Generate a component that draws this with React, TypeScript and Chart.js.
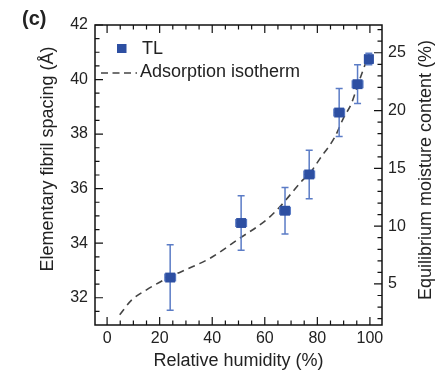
import React, { useEffect, useRef } from "react";
import { Chart, registerables } from "chart.js";

Chart.register(...registerables);

// ---- data ----
const humidity = [24, 51, 67.7, 76.9, 88.3, 95.3, 99.6];
const spacing = [32.74, 34.74, 35.19, 36.52, 38.79, 39.83, 40.75];
const spacingErr = [1.2, 1.0, 0.85, 0.89, 0.88, 0.71, 0.21];
const humidityErr = [2, 2, 2, 2, 2, 2, 1.6];

const isothermRH = [4.8, 9.5, 15, 24, 30, 39.2, 50.6, 60.7, 65.8, 74.5, 77, 81, 86.7, 89.9, 93, 95.6, 98.1, 99.5];
const isothermSpacing = [31.38, 31.93, 32.29, 32.77, 33.03, 33.45, 34.19, 34.86, 35.34, 36.32, 36.55, 37.1, 37.9, 38.58, 39.13, 39.86, 40.53, 40.9];

const xTicks = [0, 20, 40, 60, 80, 100];
const yTicks = [32, 34, 36, 38, 40, 42];
const y2Ticks = [5, 10, 15, 20, 25];

const FONT = "'Liberation Sans', Arial, Helvetica, sans-serif";
const MARKER = "#2d4fa2";
const ERR = "#5b7cc6";
const TEXT = "#222";

function range(a: number, b: number, s: number) {
  const out: number[] = [];
  for (let v = a; v <= b + 1e-9; v += s) out.push(Math.round(v * 1000) / 1000);
  return out;
}

const framePlugin = {
  id: "frame",
  beforeDatasetDraw(chart: any, args: any) {
    if (args.index !== 0) return;
    const ctx = chart.ctx;
    const xs = chart.scales.x;
    const ys = chart.scales.y;
    ctx.save();
    ctx.strokeStyle = ERR;
    ctx.lineWidth = 1.5;
    for (let i = 0; i < humidity.length; i++) {
      const px = xs.getPixelForValue(humidity[i]);
      const py = ys.getPixelForValue(spacing[i]);
      const t = ys.getPixelForValue(spacing[i] + spacingErr[i]);
      const b = ys.getPixelForValue(spacing[i] - spacingErr[i]);
      const l = xs.getPixelForValue(humidity[i] - humidityErr[i]);
      const r = xs.getPixelForValue(humidity[i] + humidityErr[i]);
      ctx.beginPath();
      ctx.moveTo(px, t); ctx.lineTo(px, b);
      ctx.moveTo(px - 3.5, t); ctx.lineTo(px + 3.5, t);
      ctx.moveTo(px - 3.5, b); ctx.lineTo(px + 3.5, b);
      ctx.moveTo(l, py); ctx.lineTo(r, py);
      ctx.moveTo(l, py - 4); ctx.lineTo(l, py + 4);
      ctx.moveTo(r, py - 4); ctx.lineTo(r, py + 4);
      ctx.stroke();
    }
    ctx.restore();
  },
  afterDraw(chart: any) {
    const ctx = chart.ctx;
    const { left, right, top, bottom } = chart.chartArea;
    const xs = chart.scales.x;
    const ys = chart.scales.y;
    const y2 = chart.scales.y2;
    ctx.save();
    ctx.strokeStyle = "#111";
    ctx.lineWidth = 1.5;
    ctx.strokeRect(left, top, right - left, bottom - top);
    ctx.lineWidth = 1.2;
    ctx.beginPath();
    // x ticks (bottom and top)
    for (const v of range(0, 100, 5)) {
      const px = xs.getPixelForValue(v);
      const len = v % 20 === 0 ? 8 : 4.5;
      ctx.moveTo(px, bottom); ctx.lineTo(px, bottom - len);
      ctx.moveTo(px, top); ctx.lineTo(px, top + len);
    }
    // left y ticks
    for (const v of range(31.5, 42, 0.5)) {
      const py = ys.getPixelForValue(v);
      const len = Math.abs(v % 2) < 1e-6 ? 8 : 4.5;
      ctx.moveTo(left, py); ctx.lineTo(left + len, py);
    }
    // right y ticks
    for (const v of range(2, 27, 1)) {
      const py = y2.getPixelForValue(v);
      const len = v % 5 === 0 ? 8 : 4.5;
      ctx.moveTo(right, py); ctx.lineTo(right - len, py);
    }
    ctx.stroke();

    // axis titles
    ctx.fillStyle = TEXT;
    ctx.font = `18px ${FONT}`;
    ctx.textAlign = "center";
    ctx.textBaseline = "middle";
    ctx.fillText("Relative humidity (%)", (left + right) / 2, 361);
    ctx.save();
    ctx.translate(48, 159);
    ctx.rotate(-Math.PI / 2);
    ctx.fillText("Elementary fibril spacing (Å)", 0, 0);
    ctx.restore();
    ctx.save();
    ctx.translate(426, 170);
    ctx.rotate(-Math.PI / 2);
    ctx.fillText("Equilibrium moisture content (%)", 0, 0);
    ctx.restore();

    // panel label
    ctx.font = `bold 20px ${FONT}`;
    ctx.textAlign = "left";
    ctx.fillText("(c)", 22, 19);

    // legend
    ctx.fillStyle = MARKER;
    ctx.fillRect(117, 44, 9.5, 9);
    ctx.fillStyle = TEXT;
    ctx.font = `18px ${FONT}`;
    ctx.fillText("TL", 142, 49);
    ctx.strokeStyle = "#444";
    ctx.lineWidth = 1.5;
    ctx.setLineDash([7, 4.5]);
    ctx.beginPath();
    ctx.moveTo(101, 73);
    ctx.lineTo(137, 73);
    ctx.stroke();
    ctx.setLineDash([]);
    ctx.fillText("Adsorption isotherm", 140, 72);
    ctx.restore();
  },
};

export default function App() {
  const ref = useRef<HTMLCanvasElement | null>(null);
  useEffect(() => {
    if (!ref.current) return;
    const chart = new Chart(ref.current, {
      type: "scatter",
      data: {
        datasets: [
          {
            label: "TL",
            data: humidity.map((x, i) => ({ x, y: spacing[i] })),
            backgroundColor: MARKER,
            borderColor: MARKER,
            pointStyle: "rect",
            pointRadius: 7,
            pointBorderWidth: 0,
            showLine: false,
            yAxisID: "y",
          },
          {
            label: "Adsorption isotherm",
            type: "line",
            data: isothermRH.map((x, i) => ({ x, y: isothermSpacing[i] })),
            borderColor: "#444",
            borderWidth: 1.6,
            borderDash: [7, 5],
            pointRadius: 0,
            cubicInterpolationMode: "monotone",
            fill: false,
            yAxisID: "y",
          } as any,
        ],
      },
      options: {
        responsive: false,
        animation: false,
        layout: { padding: { top: 25, left: 0, right: 0, bottom: 0 } },
        plugins: { legend: { display: false }, tooltip: { enabled: false } },
        scales: {
          x: {
            type: "linear",
            min: -4.6,
            max: 104.6,
            grid: { display: false, drawTicks: false },
            border: { display: false },
            ticks: { font: { family: FONT, size: 16 }, color: TEXT, padding: 4, maxRotation: 0 },
            afterBuildTicks: (s: any) => { s.ticks = xTicks.map((v) => ({ value: v })); },
            afterFit: (s: any) => { s.height = 46; },
          },
          y: {
            type: "linear",
            position: "left",
            min: 31.0,
            max: 42,
            grid: { display: false, drawTicks: false },
            border: { display: false },
            ticks: { font: { family: FONT, size: 16 }, color: TEXT, padding: 7 },
            afterBuildTicks: (s: any) => { s.ticks = yTicks.map((v) => ({ value: v })); },
            afterFit: (s: any) => { s.width = 95; },
          },
          y2: {
            type: "linear",
            position: "right",
            min: 1.45,
            max: 27.4,
            grid: { display: false, drawTicks: false },
            border: { display: false },
            ticks: { font: { family: FONT, size: 16 }, color: TEXT, padding: 6 },
            afterBuildTicks: (s: any) => { s.ticks = y2Ticks.map((v) => ({ value: v })); },
            afterFit: (s: any) => { s.width = 54; },
          },
        },
      },
      plugins: [framePlugin],
    });
    return () => chart.destroy();
  }, []);
  return (
    <div style={{ position: "fixed", left: 0, top: 0, width: 436, height: 371, background: "#fff" }}>
      <canvas ref={ref} width={436} height={371} style={{ display: "block" }} />
    </div>
  );
}
